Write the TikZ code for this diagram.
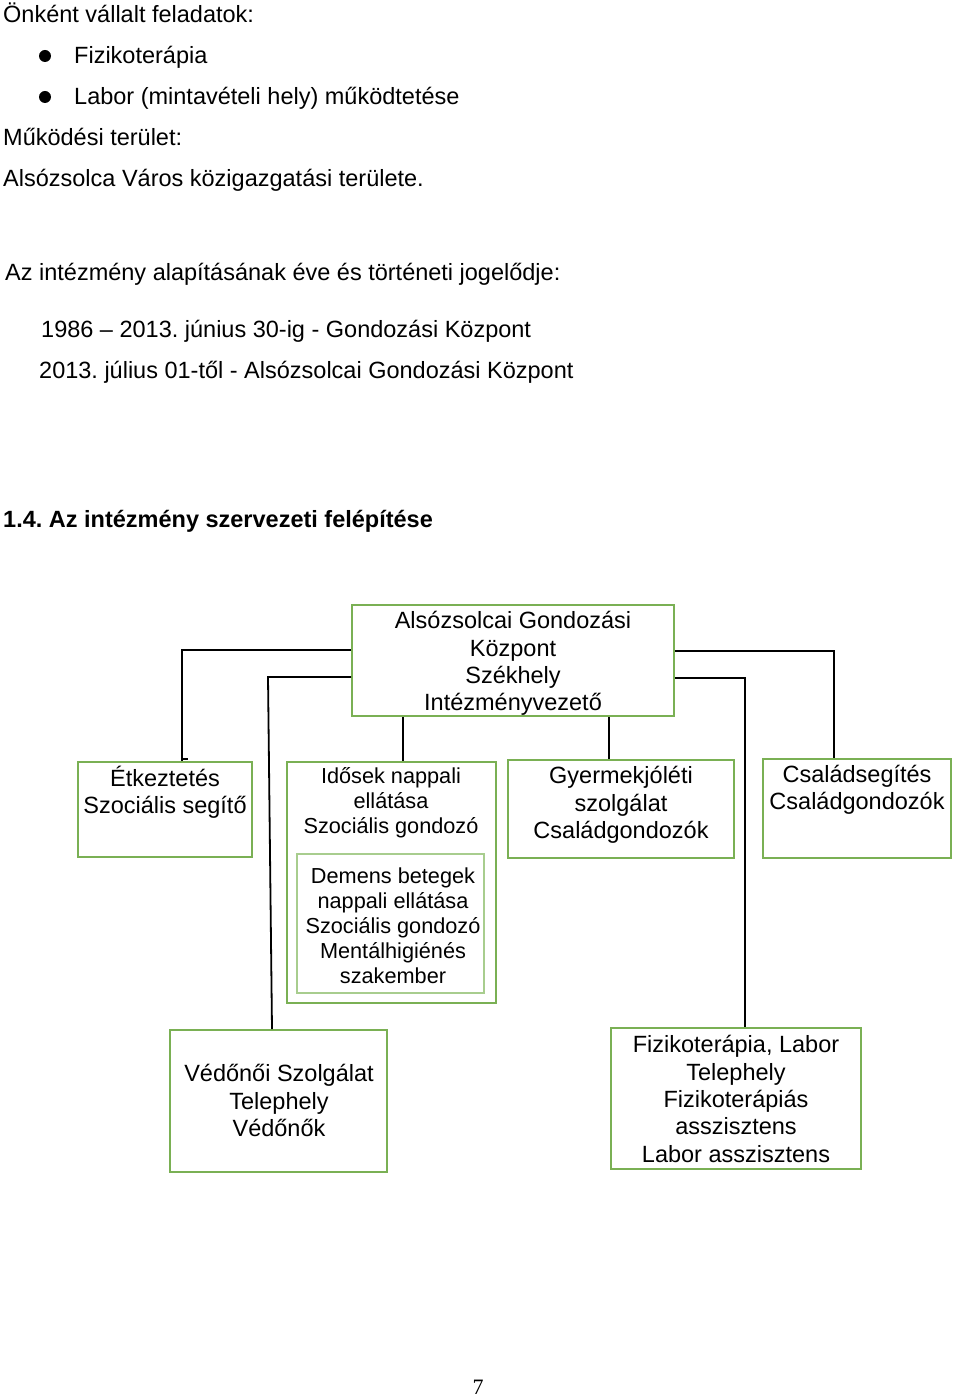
\documentclass[tikz,border=0pt]{standalone}
\usepackage{fontspec}
\setmainfont{Liberation Sans}
\newfontfamily\pagenumfont{Liberation Serif}
\definecolor{boxgreen}{RGB}{122,176,84}
\definecolor{lightgreen}{RGB}{168,205,142}
\frenchspacing
\begin{document}
\begin{tikzpicture}[x=1pt,y=-1pt,
  txt/.style={anchor=base west,inner sep=0pt,font=\fontsize{23.5}{28}\selectfont},
  orgbox/.style={draw=boxgreen,line width=2pt,inner sep=0pt,fill=white},
  innerbox/.style={draw=lightgreen,line width=2pt,inner sep=0pt,fill=white},
  boxtxt/.style={align=center,inner sep=0pt,font=\fontsize{23.5}{27.3}\selectfont},
  smalltxt/.style={align=center,inner sep=0pt,font=\fontsize{21.7}{25}\selectfont},
  conn/.style={draw=black,line width=1.8pt}]
\useasboundingbox (0,0) rectangle (960,1396);
\fill[white] (0,0) rectangle (960,1396);
% top texts
\node[txt] (t1) at (3,23) {Önként vállalt feladatok:};
\fill (45,56) circle[radius=6pt];
\node[txt] (t2) at (74,64) {Fizikoterápia};
\fill (45,97) circle[radius=6pt];
\node[txt] (t3) at (74,105) {Labor (mintavételi hely) működtetése};
\node[txt] (t4) at (3,146) {Működési terület:};
\node[txt] (t5) at (3,187) {Alsózsolca Város közigazgatási területe.};
\node[txt] (t6) at (5,281) {Az intézmény alapításának éve és történeti jogelődje:};
\node[txt] (t7) at (41,337) {1986 – 2013. június 30-ig - Gondozási Központ};
\node[txt] (t8) at (39,378) {2013. július 01-től - Alsózsolcai Gondozási Központ};
\node[txt,font=\fontsize{23.5}{28}\selectfont\bfseries] (t9) at (3,527) {1.4. Az intézmény szervezeti felépítése};
% boxes
\node[orgbox,minimum width=322pt,minimum height=111pt] (top) at (513,660.5) {};
\node[orgbox,minimum width=174pt,minimum height=95pt] (etk) at (165,809.5) {};
\node[orgbox,minimum width=209pt,minimum height=241pt] (ido) at (391.5,882.5) {};
\node[innerbox,minimum width=187pt,minimum height=139pt] (dem) at (390.5,923.5) {};
\node[orgbox,minimum width=226pt,minimum height=98pt] (gyer) at (621,809) {};
\node[orgbox,minimum width=188pt,minimum height=99pt] (csal) at (857,808.5) {};
\node[orgbox,minimum width=217pt,minimum height=142pt] (ved) at (278.5,1101) {};
\node[orgbox,minimum width=250pt,minimum height=141pt] (fiz) at (736,1098.5) {};
% box texts
\node[boxtxt] (topT) at (513,663.5) {Alsózsolcai Gondozási\\Központ\\Székhely\\Intézményvezető};
\node[boxtxt] (etkT) at (165,792.5) {Étkeztetés\\Szociális segítő};
\node[smalltxt] (idoT) at (391,803) {Idősek nappali\\ellátása\\Szociális gondozó};
\node[smalltxt] (demT) at (393,925.5) {Demens betegek\\nappali ellátása\\Szociális gondozó\\Mentálhigiénés\\szakember};
\node[boxtxt] (gyerT) at (621,805) {Gyermekjóléti\\szolgálat\\Családgondozók};
\node[boxtxt] (csalT) at (857,789.5) {Családsegítés\\Családgondozók};
\node[boxtxt] (vedT) at (279,1100.5) {Védőnői Szolgálat\\Telephely\\Védőnők};
\node[boxtxt] (fizT) at (736,1099) {Fizikoterápia, Labor\\Telephely\\Fizikoterápiás\\asszisztens\\Labor asszisztens};
% connectors
\coordinate (c1) at (182,650);
\draw[conn] (c1 -| top.west) -- (c1) -- (c1 |- etk.north);
\coordinate (c1s) at (188,759);
\draw[conn,line width=1.2pt] (c1 |- c1s) -- (c1s);
\coordinate (c2) at (268,677);
\coordinate (c2b) at (272,1030);
\draw[conn] (c2 -| top.west) -- (c2) -- (c2b |- ved.north);
\coordinate (c3) at (403,700);
\draw[conn] (c3 |- top.south) -- (c3 |- ido.north);
\coordinate (c4) at (609,700);
\draw[conn] (c4 |- top.south) -- (c4 |- gyer.north);
\coordinate (c5) at (834,651);
\draw[conn] (c5 -| top.east) -- (c5) -- (c5 |- csal.north);
\coordinate (c6) at (745,678);
\draw[conn] (c6 -| top.east) -- (c6) -- (c6 |- fiz.north);
% page number
\node[anchor=base,inner sep=0pt,font=\pagenumfont\fontsize{22}{26}\selectfont] (pg) at (478,1394) {7};
\end{tikzpicture}
\end{document}
